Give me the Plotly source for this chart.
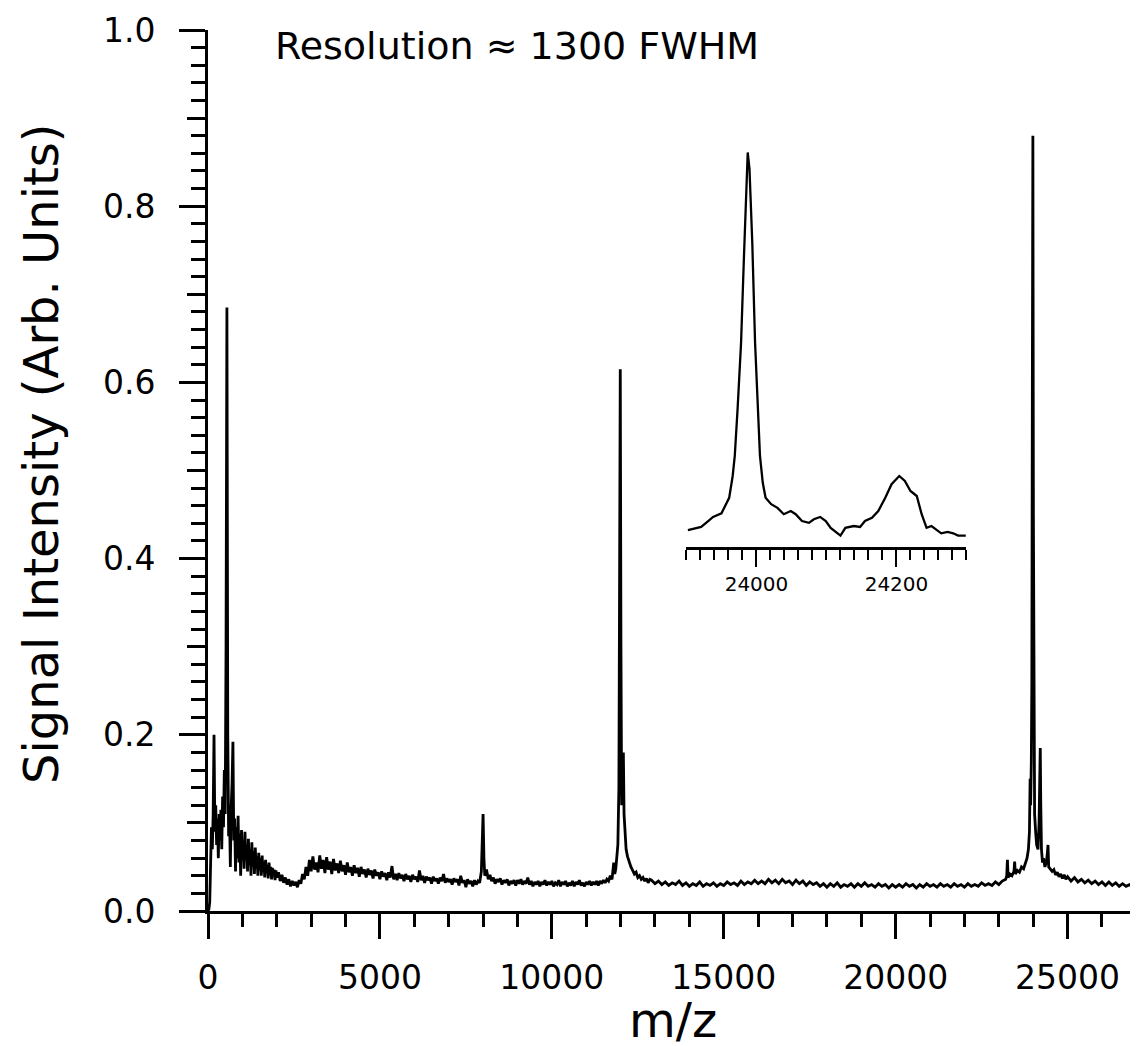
import plotly.graph_objects as go

# ---------------- main spectrum ----------------
mz_a = [0, 25, 50, 75, 100, 125, 150, 175, 200, 225, 250, 275, 300, 325, 350, 375, 400, 425, 450, 475,
        500, 525, 550, 575, 600, 625, 650, 675, 700, 725, 750, 775, 800, 825, 850, 875, 900, 925, 950, 975,
        1000, 1025, 1050, 1075, 1100, 1125, 1150, 1175, 1200, 1225, 1250, 1275, 1300, 1325, 1350, 1375,
        1400, 1425, 1450, 1475, 1500, 1525, 1550, 1575, 1600, 1625, 1650, 1675, 1700, 1725, 1750, 1775,
        1800, 1825, 1850, 1875, 1900, 1925, 1950, 1975, 2000, 2050, 2100, 2150, 2200, 2250, 2300, 2350,
        2400, 2450, 2500]
int_a = [0.000, 0.002, 0.010, 0.060, 0.095, 0.070, 0.110, 0.200, 0.090, 0.120, 0.075, 0.105, 0.060, 0.110,
         0.080, 0.115, 0.070, 0.130, 0.095, 0.160, 0.110, 0.300, 0.685, 0.200, 0.085, 0.110, 0.050, 0.120,
         0.145, 0.192, 0.080, 0.105, 0.045, 0.095, 0.060, 0.108, 0.055, 0.088, 0.040, 0.092, 0.065, 0.080,
         0.048, 0.090, 0.058, 0.075, 0.045, 0.082, 0.052, 0.070, 0.040, 0.078, 0.050, 0.068, 0.042, 0.072,
         0.048, 0.062, 0.040, 0.066, 0.046, 0.060, 0.040, 0.063, 0.044, 0.056, 0.038, 0.058, 0.043, 0.052,
         0.037, 0.055, 0.041, 0.050, 0.036, 0.049, 0.040, 0.047, 0.035, 0.046, 0.038, 0.044, 0.034, 0.041,
         0.032, 0.038, 0.030, 0.036, 0.028, 0.034, 0.029]

mz_b = [2550, 2600, 2650, 2700, 2750, 2800, 2850, 2900, 2950, 3000, 3050, 3100, 3150, 3200, 3250, 3300,
        3350, 3400, 3450, 3500, 3550, 3600, 3650, 3700, 3750, 3800, 3850, 3900, 3950, 4000, 4050, 4100,
        4150, 4200, 4250, 4300, 4350, 4400, 4450, 4500, 4550, 4600, 4650, 4700, 4750, 4800, 4850, 4900,
        4950, 5000, 5050, 5100, 5150, 5200, 5250, 5300, 5350, 5400, 5450, 5500, 5550, 5600, 5650, 5700,
        5750, 5800, 5850, 5900, 5950, 6000, 6050, 6100, 6150, 6200, 6250, 6300, 6350, 6400, 6450, 6500,
        6550, 6600, 6650, 6700, 6750, 6800, 6850, 6900, 6950, 7000, 7050, 7100, 7150, 7200, 7250, 7300,
        7350, 7400, 7450, 7500, 7550, 7600, 7650, 7700, 7750, 7800, 7850, 7900, 7950, 7975, 8000, 8025,
        8050, 8100, 8150, 8200]
int_b = [0.033, 0.027, 0.035, 0.031, 0.042, 0.036, 0.050, 0.040, 0.058, 0.045, 0.062, 0.047, 0.055, 0.044,
         0.063, 0.048, 0.058, 0.043, 0.061, 0.047, 0.056, 0.042, 0.059, 0.046, 0.054, 0.043, 0.057, 0.045,
         0.052, 0.041, 0.055, 0.044, 0.050, 0.040, 0.052, 0.043, 0.049, 0.039, 0.050, 0.042, 0.047, 0.038,
         0.048, 0.041, 0.046, 0.037, 0.047, 0.040, 0.044, 0.036, 0.045, 0.039, 0.043, 0.035, 0.044, 0.038,
         0.051, 0.036, 0.042, 0.035, 0.043, 0.037, 0.041, 0.034, 0.042, 0.036, 0.040, 0.033, 0.041, 0.036,
         0.039, 0.033, 0.046, 0.035, 0.040, 0.032, 0.039, 0.035, 0.038, 0.031, 0.039, 0.034, 0.037, 0.031,
         0.038, 0.034, 0.042, 0.032, 0.037, 0.033, 0.036, 0.030, 0.037, 0.033, 0.036, 0.029, 0.040, 0.032,
         0.035, 0.027, 0.036, 0.031, 0.034, 0.028, 0.035, 0.030, 0.034, 0.032, 0.045, 0.080, 0.110, 0.060,
         0.040, 0.047, 0.036, 0.041]

mz_c = [8250, 8300, 8350, 8400, 8450, 8500, 8550, 8600, 8650, 8700, 8750, 8800, 8850, 8900, 8950, 9000,
        9050, 9100, 9150, 9200, 9250, 9300, 9350, 9400, 9450, 9500, 9550, 9600, 9650, 9700, 9750, 9800,
        9850, 9900, 9950, 10000, 10050, 10100, 10150, 10200, 10250, 10300, 10350, 10400, 10450, 10500,
        10550, 10600, 10650, 10700, 10750, 10800, 10850, 10900, 10950, 11000, 11050, 11100, 11150, 11200,
        11250, 11300, 11350, 11400, 11450, 11500, 11550, 11600, 11650, 11700, 11750, 11800, 11830, 11860,
        11890, 11920, 11950, 11970, 11990, 12010, 12030, 12060, 12080, 12100, 12130, 12160, 12200, 12250,
        12300, 12350, 12400, 12450, 12500, 12550, 12600, 12650, 12700, 12750, 12800, 12850]
int_c = [0.034, 0.038, 0.031, 0.036, 0.033, 0.037, 0.030, 0.035, 0.032, 0.036, 0.029, 0.034, 0.031, 0.035,
         0.029, 0.035, 0.031, 0.036, 0.030, 0.034, 0.031, 0.038, 0.030, 0.034, 0.028, 0.033, 0.030, 0.034,
         0.028, 0.033, 0.030, 0.035, 0.029, 0.033, 0.030, 0.034, 0.028, 0.032, 0.030, 0.035, 0.028, 0.033,
         0.030, 0.034, 0.028, 0.032, 0.029, 0.034, 0.028, 0.033, 0.030, 0.035, 0.029, 0.032, 0.028, 0.033,
         0.030, 0.034, 0.029, 0.033, 0.030, 0.034, 0.029, 0.034, 0.031, 0.035, 0.032, 0.036, 0.034, 0.040,
         0.036, 0.055, 0.042, 0.048, 0.060, 0.075, 0.140, 0.350, 0.615, 0.300, 0.120, 0.150, 0.180, 0.110,
         0.080, 0.070, 0.062, 0.055, 0.050, 0.046, 0.042, 0.044, 0.038, 0.040, 0.036, 0.038, 0.034, 0.037,
         0.032, 0.036]

mz_d = [12900, 13000, 13100, 13200, 13300, 13400, 13500, 13600, 13700, 13800, 13900, 14000, 14100, 14200,
        14300, 14400, 14500, 14600, 14700, 14800, 14900, 15000, 15100, 15200, 15300, 15400, 15500, 15600,
        15700, 15800, 15900, 16000, 16100, 16200, 16300, 16400, 16500, 16600, 16700, 16800, 16900, 17000,
        17100, 17200, 17300, 17400, 17500, 17600, 17700, 17800, 17900, 18000, 18100, 18200, 18300, 18400,
        18500, 18600, 18700, 18800, 18900, 19000, 19100, 19200, 19300, 19400, 19500, 19600, 19700, 19800,
        19900, 20000, 20100, 20200, 20300, 20400, 20500, 20600, 20700, 20800, 20900, 21000, 21100, 21200,
        21300, 21400, 21500, 21600, 21700, 21800, 21900, 22000, 22100, 22200, 22300, 22400, 22500, 22600,
        22700, 22800, 22900, 23000, 23100, 23200]
int_d = [0.035, 0.031, 0.034, 0.030, 0.033, 0.029, 0.032, 0.030, 0.034, 0.029, 0.032, 0.028, 0.031, 0.029,
         0.033, 0.028, 0.031, 0.029, 0.032, 0.028, 0.031, 0.029, 0.033, 0.030, 0.032, 0.029, 0.034, 0.030,
         0.033, 0.031, 0.035, 0.031, 0.034, 0.031, 0.036, 0.032, 0.035, 0.031, 0.036, 0.032, 0.034, 0.030,
         0.035, 0.031, 0.034, 0.029, 0.033, 0.030, 0.032, 0.028, 0.031, 0.027, 0.031, 0.028, 0.032, 0.027,
         0.030, 0.028, 0.031, 0.027, 0.031, 0.028, 0.032, 0.028, 0.030, 0.027, 0.031, 0.028, 0.030, 0.026,
         0.030, 0.027, 0.030, 0.027, 0.031, 0.028, 0.030, 0.026, 0.030, 0.027, 0.031, 0.028, 0.030, 0.027,
         0.031, 0.028, 0.030, 0.027, 0.031, 0.028, 0.030, 0.027, 0.031, 0.028, 0.030, 0.028, 0.032, 0.029,
         0.031, 0.029, 0.033, 0.030, 0.034, 0.036]

mz_e = [23230, 23250, 23270, 23320, 23380, 23440, 23460, 23480, 23540, 23600, 23660, 23720, 23780, 23820,
        23860, 23890, 23910, 23925, 23945, 23960, 23975, 23990, 24005, 24020, 24040, 24070, 24100, 24140,
        24170, 24190, 24205, 24220, 24240, 24270, 24300, 24340, 24380, 24410, 24430, 24450, 24500, 24550,
        24600, 24650, 24700, 24750, 24800, 24850, 24900, 24950, 25000, 25100, 25200, 25300, 25400, 25500,
        25600, 25700, 25800, 25900, 26000, 26100, 26200, 26300, 26400, 26500, 26600, 26700, 26800, 26900,
        27000, 27100, 27200, 27300]
int_e = [0.040, 0.058, 0.038, 0.042, 0.040, 0.045, 0.056, 0.042, 0.046, 0.044, 0.050, 0.048, 0.055, 0.060,
         0.070, 0.090, 0.150, 0.120, 0.170, 0.260, 0.600, 0.880, 0.450, 0.180, 0.110, 0.090, 0.075, 0.070,
         0.100, 0.150, 0.185, 0.120, 0.070, 0.055, 0.060, 0.050, 0.055, 0.065, 0.075, 0.050, 0.048, 0.045,
         0.047, 0.041, 0.044, 0.039, 0.042, 0.037, 0.041, 0.036, 0.039, 0.034, 0.038, 0.033, 0.036, 0.032,
         0.035, 0.031, 0.034, 0.030, 0.033, 0.029, 0.033, 0.029, 0.032, 0.028, 0.031, 0.028, 0.030, 0.027,
         0.029, 0.027, 0.030, 0.028]

# ---------------- inset (zoom on 24 kDa peak) ----------------
inset_mz = [23902, 23912, 23921, 23931, 23938, 23950, 23954, 23961, 23966, 23969, 23973, 23978, 23982,
            23985, 23987.5, 23990, 23994, 23998, 24003, 24005, 24009, 24013, 24021, 24030, 24039, 24049,
            24056, 24065, 24075, 24082, 24091, 24099, 24106, 24115, 24120, 24127, 24139, 24148, 24155,
            24165, 24174, 24184, 24193, 24204, 24212, 24220, 24229, 24236, 24243, 24250, 24257, 24264,
            24273, 24281, 24288, 24299]
inset_int = [0.049, 0.052, 0.056, 0.069, 0.078, 0.086, 0.098, 0.120, 0.168, 0.212, 0.315, 0.461, 0.645,
             0.791, 0.879, 0.843, 0.681, 0.461, 0.278, 0.212, 0.153, 0.120, 0.106, 0.098, 0.084, 0.091,
             0.084, 0.069, 0.065, 0.073, 0.078, 0.069, 0.054, 0.043, 0.037, 0.054, 0.058, 0.056, 0.069,
             0.076, 0.091, 0.120, 0.150, 0.168, 0.157, 0.135, 0.124, 0.084, 0.054, 0.058, 0.049, 0.042,
             0.045, 0.042, 0.037, 0.037]

x_ticks = [0, 5000, 10000, 15000, 20000, 25000]
x_tick_text = ["0", "5000", "10000", "15000", "20000", "25000"]
y_ticks = [0.0, 0.2, 0.4, 0.6, 0.8, 1.0]
y_tick_text = ["0.0", "0.2", "0.4", "0.6", "0.8", "1.0"]
y_mid_ticks = [0.1, 0.3, 0.5, 0.7, 0.9]
inset_ticks = [24000, 24200]
inset_tick_text = ["24000", "24200"]

mz = mz_a + mz_b + mz_c + mz_d + mz_e
intensity = int_a + int_b + int_c + int_d + int_e

FONT = "DejaVu Sans"
BLACK = "#000000"

fig = go.Figure()
fig.add_trace(go.Scatter(x=mz, y=intensity, mode="lines",
                         line=dict(color=BLACK, width=2.8), showlegend=False, hoverinfo="skip"))
fig.add_trace(go.Scatter(x=[], y=[], yaxis="y3", showlegend=False, hoverinfo="skip"))
fig.add_trace(go.Scatter(x=inset_mz, y=inset_int, mode="lines", xaxis="x2", yaxis="y2",
                         line=dict(color=BLACK, width=2.3), showlegend=False, hoverinfo="skip"))

fig.update_layout(
    template="none",
    width=1138, height=1046,
    margin=dict(l=200, r=0, t=22, b=143, autoexpand=False),
    paper_bgcolor="white", plot_bgcolor="white",
    font=dict(family=FONT, color=BLACK),
    xaxis=dict(range=[0, 27280], showgrid=False, zeroline=False, showline=True, linecolor=BLACK,
               linewidth=3, ticks="outside", tickvals=x_ticks, ticktext=x_tick_text, ticklen=25,
               tickwidth=2.5, tickcolor=BLACK, tickfont=dict(size=33, family=FONT),
               ticklabelstandoff=10, automargin=False,
               minor=dict(dtick=1000, tick0=0, ticklen=13, tickwidth=2.5, ticks="outside",
                          tickcolor=BLACK, showgrid=False),
               anchor="y"),
    yaxis=dict(range=[0, 1.0], showgrid=False, zeroline=False, showline=True, linecolor=BLACK,
               linewidth=3, ticks="outside", tickvals=y_ticks, ticktext=y_tick_text, ticklen=26,
               tickwidth=2.5, tickcolor=BLACK, tickfont=dict(size=33, family=FONT),
               ticklabelstandoff=17, automargin=False,
               minor=dict(dtick=0.02, tick0=0, ticklen=14, tickwidth=2.5, ticks="outside",
                          tickcolor=BLACK, showgrid=False),
               anchor="x"),
    yaxis3=dict(range=[0, 1.0], overlaying="y", anchor="x", side="left", showgrid=False,
                zeroline=False, showline=False, ticks="outside", tickvals=y_mid_ticks, ticklen=20,
                tickwidth=2.5, tickcolor=BLACK, showticklabels=False, automargin=False),
    xaxis2=dict(domain=[0.5101, 0.8086], range=[23900, 24300], anchor="y2", showgrid=False,
                zeroline=False, showline=True, linecolor=BLACK, linewidth=2.5, ticks="outside",
                tickvals=inset_ticks, ticktext=inset_tick_text, ticklen=17, tickwidth=2,
                tickcolor=BLACK, tickfont=dict(size=20, family=FONT), ticklabelstandoff=0,
                automargin=False,
                minor=dict(dtick=20, tick0=23900, ticklen=10, tickwidth=2, ticks="outside",
                           tickcolor=BLACK, showgrid=False)),
    yaxis2=dict(domain=[0.4132, 0.8615], range=[0.012, 0.88], anchor="x2", visible=False,
                automargin=False),
    annotations=[
        dict(text="Resolution \u2248 1300 FWHM", xref="paper", yref="paper", x=0.0693, y=0.9818,
             xanchor="left", yanchor="middle", showarrow=False, font=dict(size=38, family=FONT)),
        dict(text="Signal Intensity (Arb. Units)", xref="paper", yref="paper", x=-0.178, y=0.5187,
             xanchor="center", yanchor="middle", textangle=-90, showarrow=False,
             font=dict(size=48, family=FONT)),
        dict(text="m/z", xref="paper", yref="paper", x=0.4957, y=-0.1237, xanchor="center",
             yanchor="middle", showarrow=False, font=dict(size=48, family=FONT)),
    ],
)

fig.write_html("out.html")
